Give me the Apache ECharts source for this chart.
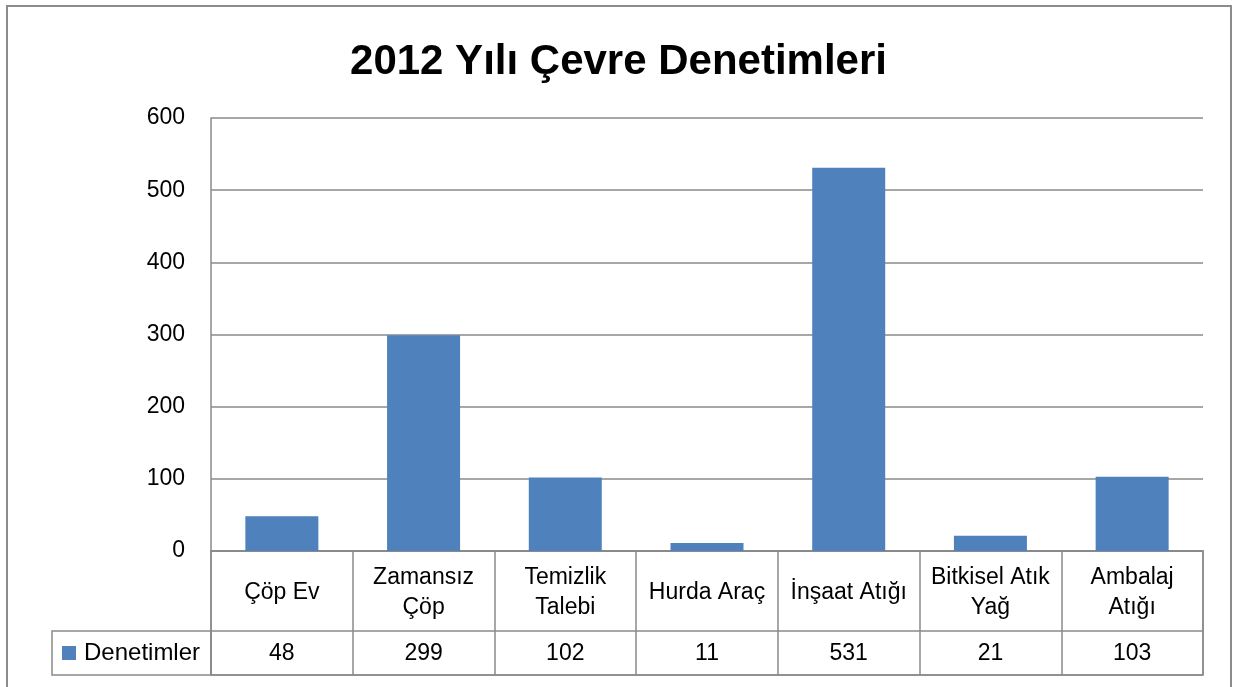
<!DOCTYPE html>
<html>
<head>
<meta charset="utf-8">
<script src="https://cdn.jsdelivr.net/npm/echarts@6/dist/echarts.min.js"></script>
<style>
  html, body { margin: 0; padding: 0; background: #fff; }
  #chart { width: 1237px; height: 687px; }
</style>
</head>
<body>
<div id="chart"></div>
<script>
// Inspection counts per category for 2012
const titleText = '2012 Yılı Çevre Denetimleri';
const seriesName = 'Denetimler';
const categories = ['Çöp Ev', 'Zamansız\nÇöp', 'Temizlik\nTalebi', 'Hurda Araç', 'İnşaat Atığı', 'Bitkisel Atık\nYağ', 'Ambalaj\nAtığı'];
const values = [48, 299, 102, 11, 531, 21, 103];
const yTicks = { min: 0, max: 600, interval: 100 };

const FONT = 'Liberation Sans';
const LINE = '#8a8a8a';
const BAR = '#4f81bd';

// Data-table rows are laid out on a 0..124 scale (header row 0..80, value row 80..124)
const headerRowMid = 42;
const valueRowMid = 103;

const chart = echarts.init(document.getElementById('chart'));

chart.setOption({
  animation: false,
  backgroundColor: '#fff',
  title: {
    text: titleText,
    left: 'center',
    top: 36,
    textStyle: { fontFamily: FONT, fontWeight: 'bold', fontSize: 42, color: '#000' }
  },
  legend: {
    data: [seriesName],
    left: 62,
    top: 641,
    padding: 0,
    icon: 'rect',
    itemWidth: 14,
    itemHeight: 14,
    itemGap: 0,
    textStyle: { fontFamily: FONT, fontSize: 24, color: '#000', padding: [0, 0, 0, 3] }
  },
  grid: [
    { left: 211, right: 34, top: 118, bottom: 136, containLabel: false },
    { left: 211, right: 34, top: 551, height: 124, show: true, borderColor: LINE, borderWidth: 1.5, containLabel: false }
  ],
  xAxis: [
    {
      type: 'category', gridIndex: 0, data: categories,
      axisLabel: { show: false }, axisTick: { show: false },
      axisLine: { show: true, lineStyle: { color: LINE, width: 1.5 } }
    },
    {
      type: 'category', gridIndex: 1, data: categories,
      axisLabel: { show: false }, axisTick: { show: false }, axisLine: { show: false },
      splitLine: { show: true, interval: 0, lineStyle: { color: LINE, width: 1.5 } }
    }
  ],
  yAxis: [
    {
      type: 'value', gridIndex: 0, min: yTicks.min, max: yTicks.max, interval: yTicks.interval,
      axisLine: { show: true, lineStyle: { color: LINE, width: 1.5 } },
      axisTick: { show: false },
      axisLabel: { margin: 26, fontFamily: FONT, fontSize: 23, color: '#000' },
      splitLine: { show: true, lineStyle: { color: LINE, width: 1.5 } }
    },
    {
      type: 'value', gridIndex: 1, min: 0, max: 124, interval: 80, inverse: true,
      axisLabel: { show: false }, axisTick: { show: false }, axisLine: { show: false },
      splitLine: { show: true, lineStyle: { color: LINE, width: 1.5 } }
    }
  ],
  graphic: [
    // outer chart frame
    { type: 'rect', shape: { x: 7, y: 6, width: 1224, height: 720 }, style: { fill: 'none', stroke: '#8c8c8c', lineWidth: 2 }, silent: true },
    // legend cell of the data table
    { type: 'rect', shape: { x: 52, y: 631, width: 159, height: 44 }, style: { fill: 'none', stroke: LINE, lineWidth: 1.5 }, silent: true }
  ],
  series: [
    {
      name: seriesName,
      type: 'bar',
      xAxisIndex: 0, yAxisIndex: 0,
      data: values,
      barWidth: 73,
      itemStyle: { color: BAR }
    },
    {
      name: 'table-categories',
      type: 'scatter',
      xAxisIndex: 1, yAxisIndex: 1,
      symbolSize: 1,
      itemStyle: { color: 'rgba(0,0,0,0)', opacity: 1 },
      data: categories.map((c, i) => [i, headerRowMid]),
      label: {
        show: true, position: 'inside',
        formatter: p => categories[p.dataIndex],
        fontFamily: FONT, fontSize: 23, color: '#000', lineHeight: 30, align: 'center'
      },
      silent: true
    },
    {
      name: 'table-values',
      type: 'scatter',
      xAxisIndex: 1, yAxisIndex: 1,
      symbolSize: 1,
      itemStyle: { color: 'rgba(0,0,0,0)', opacity: 1 },
      data: values.map((v, i) => [i, valueRowMid]),
      label: {
        show: true, position: 'inside',
        formatter: p => String(values[p.dataIndex]),
        fontFamily: FONT, fontSize: 23, color: '#000', align: 'center'
      },
      silent: true
    }
  ]
});
</script>
</body>
</html>
